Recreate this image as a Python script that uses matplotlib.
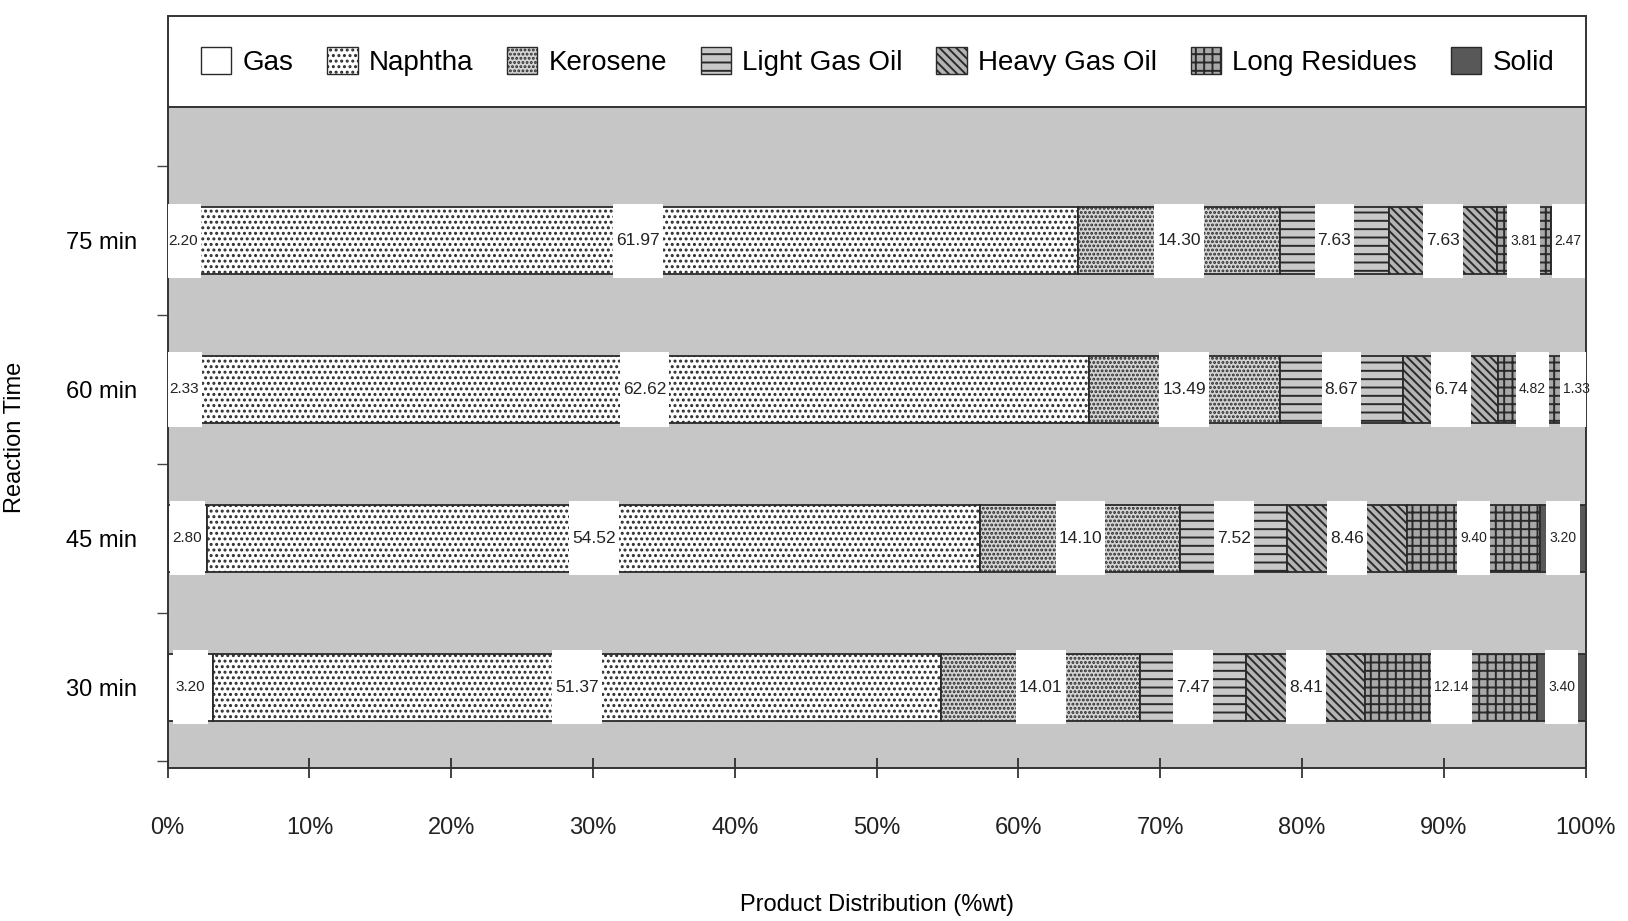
import numpy as np
import matplotlib
matplotlib.use("Agg")
import matplotlib.pyplot as plt
from matplotlib.patches import Rectangle, Patch

plt.rcParams['font.family'] = ['Liberation Sans', 'DejaVu Sans']
plt.rcParams['hatch.linewidth'] = 1.4

# reaction times, bottom to top
times = ['30 min', '45 min', '60 min', '75 min']
products = ['Gas', 'Naphtha', 'Kerosene', 'Light Gas Oil', 'Heavy Gas Oil',
            'Long Residues', 'Solid']

# %wt of each product, one list per product, in the order of times
gas = [3.20, 2.80, 2.33, 2.20]
naphtha = [51.37, 54.52, 62.62, 61.97]
kerosene = [14.01, 14.10, 13.49, 14.30]
light_gas_oil = [7.47, 7.52, 8.67, 7.63]
heavy_gas_oil = [8.41, 8.46, 6.74, 7.63]
long_residues = [12.14, 9.40, 4.82, 3.81]
solid = [3.40, 3.20, 1.33, 2.47]

series = [gas, naphtha, kerosene, light_gas_oil, heavy_gas_oil,
          long_residues, solid]

# fill style per product: face colour, hatch
faces = ['white', 'white', '#d4d4d4', '#c8c8c8', '#b4b4b4', '#a8a8a8', '#585858']
hatches = ['', '...', '....', '--', '\\\\\\\\', '++', '']
label_sizes = [11, 12.5, 12.5, 12.5, 12.5, 10, 10]

fig = plt.figure(figsize=(16.28, 9.21), dpi=100)
ax = fig.add_axes([0.103, 0.166, 0.871, 0.718])
ax.set_facecolor('#c6c6c6')

y = np.arange(len(times))
bar_h = 0.45
left = np.zeros(len(times))
for vals, fc, hat in zip(series, faces, hatches):
    ax.barh(y, vals, left=left, height=bar_h, color=fc, hatch=hat,
            edgecolor='#2a2a2a', linewidth=1.3, zorder=2)
    left = left + np.array(vals)

ax.set_xlim(0, 100)
ax.set_ylim(-0.545, 3.9)

# value labels on white boxes
texts = []
left = np.zeros(len(times))
for vals, fs in zip(series, label_sizes):
    for i, v in enumerate(vals):
        cx = left[i] + v / 2
        t = ax.text(cx, y[i], f'{v:.2f}', ha='center', va='center',
                    fontsize=fs, color='#222222', zorder=4)
        texts.append((t, cx, y[i]))
    left = left + np.array(vals)

fig.canvas.draw()
px_per_unit = ax.get_window_extent().width / 100.0
for t, cx, yy in texts:
    w = (t.get_window_extent().width + 6) / px_per_unit
    ax.add_patch(Rectangle((cx - w / 2, yy - 0.25), w, 0.5,
                           facecolor='white', edgecolor='none', zorder=3))

# axes and ticks
ax.set_xticks(np.arange(0, 101, 10))
ax.set_xticklabels([f'{v}%' for v in range(0, 101, 10)], fontsize=17)
ax.tick_params(axis='x', direction='inout', length=14, width=1.2,
               pad=28, colors='#222222')
ax.set_yticks(y)
ax.set_yticklabels(times, fontsize=17)
ax.set_yticks(np.arange(-0.5, 3.6, 1.0), minor=True)
ax.tick_params(axis='y', which='major', length=0, pad=22)
ax.tick_params(axis='y', which='minor', length=8, width=1.0, color='#444444')

ax.set_xlabel('Product Distribution (%wt)', fontsize=17)
ax.xaxis.set_label_coords(0.5, -0.19)
ax.set_ylabel('Reaction Time', fontsize=17)
ax.yaxis.set_label_coords(-0.1, 0.5)

for side in ['left', 'bottom', 'right']:
    ax.spines[side].set_color('#333333')
    ax.spines[side].set_linewidth(1.4)
ax.spines['top'].set_visible(False)

# legend strip above the plot area
box = Rectangle((0.103, 0.884), 0.871, 0.099, transform=fig.transFigure,
                facecolor='white', edgecolor='#333333', linewidth=1.4)
fig.patches.append(box)
handles = [Patch(facecolor=fc, hatch=hat, edgecolor='#2a2a2a', linewidth=1.0)
           for fc, hat in zip(faces, hatches)]
fig.legend(handles, products, loc='center', ncol=7, frameon=False,
           bbox_to_anchor=(0.108, 0.884, 0.862, 0.099), mode='expand',
           fontsize=20, handlelength=1.1, handleheight=1.1,
           handletextpad=0.4, columnspacing=0.8)

fig.savefig('out.png', dpi=100, facecolor='white')
